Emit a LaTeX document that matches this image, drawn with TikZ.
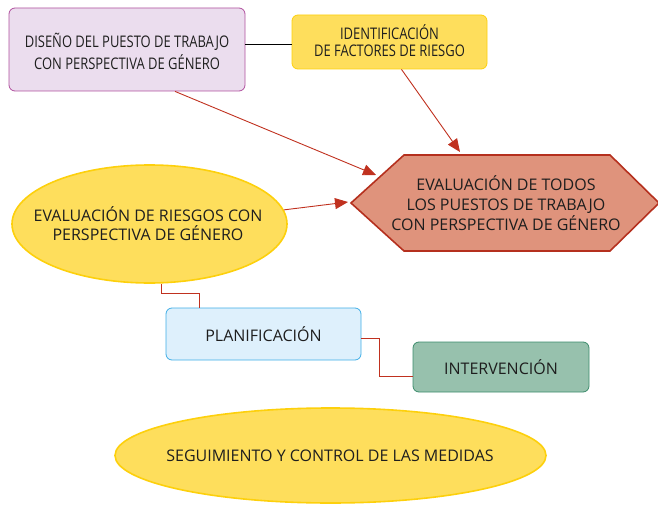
\documentclass[tikz,border=0pt]{standalone}
\usepackage{fontspec}
\setmainfont{Open Sans}
\newfontfamily\condfont[FakeStretch=0.81]{Open Sans}
\usetikzlibrary{arrows.meta,shapes.geometric}
\definecolor{txt}{HTML}{1E1E1E}
\definecolor{purF}{HTML}{EBDDEE}
\definecolor{purB}{HTML}{B0509E}
\definecolor{yelF}{HTML}{FEDE5C}
\definecolor{yelB}{HTML}{FDD00C}
\definecolor{hexF}{HTML}{DF937C}
\definecolor{hexB}{HTML}{B5301E}
\definecolor{bluF}{HTML}{DEF0FC}
\definecolor{bluB}{HTML}{3FAEE6}
\definecolor{grnF}{HTML}{97C1AD}
\definecolor{grnB}{HTML}{3C8C6C}
\definecolor{redL}{HTML}{C0311F}
\begin{document}
\begin{tikzpicture}[x=1pt,y=-1pt,
  lbl/.style={align=center,text=txt,font=\fontsize{16}{20}\selectfont,inner sep=0pt},
  box/.style={rounded corners=6pt,line width=0.8pt},
  oval/.style={ellipse,draw=yelB,fill=yelF,line width=1.6pt,inner sep=0pt},
  arr/.style={draw=redL,line width=0.9pt,-{Triangle[length=13pt,width=11pt]}},
  elb/.style={draw=redL,line width=0.9pt},
  plain/.style={draw=black,line width=0.9pt}]
\useasboundingbox (0,0) rectangle (658,505);
% hexagon
\fill[hexF,draw=hexB,line width=1.6pt,line join=miter]
  (351,203) -- (404,155) -- (610,155) -- (659,203) -- (610,251) -- (404,251) -- cycle;
\node[lbl] (hex) at (506,203) {EVALUACIÓN DE TODOS\\LOS PUESTOS DE TRABAJO\\CON PERSPECTIVA DE GÉNERO};
\coordinate (hexA) at (376,175);
\coordinate (hexB) at (460,152);
\coordinate (hexC) at (348,202);
% boxes
\node[box,draw=purB,fill=purF,minimum width=236pt,minimum height=83pt] (dis) at (127,49.5) {};
\node[lbl,font=\condfont\fontsize{16}{22}\selectfont] (distx) at (127,51) {DISEÑO DEL PUESTO DE TRABAJO\\CON PERSPECTIVA DE GÉNERO};
\node[box,draw=yelB,fill=yelF,minimum width=195pt,minimum height=54pt] (ide) at (389.5,42) {};
\node[lbl,font=\condfont\fontsize{16}{17}\selectfont] (idetx) at (389.5,41) {IDENTIFICACIÓN\\DE FACTORES DE RIESGO};
\node[oval,minimum width=275pt,minimum height=118pt] (eva) at (149.5,224) {};
\node[lbl,font=\fontsize{16}{19}\selectfont] (evatx) at (148,224) {EVALUACIÓN DE RIESGOS CON\\PERSPECTIVA DE GÉNERO};
\node[lbl,box,draw=bluB,fill=bluF,minimum width=195pt,minimum height=52pt] (pla) at (263.5,334) {PLANIFICACIÓN};
\node[lbl,box,draw=grnB,fill=grnF,minimum width=176pt,minimum height=50pt] (int) at (501,367) {INTERVENCIÓN};
\node[oval,minimum width=431pt,minimum height=95pt] (seg) at (330.5,455.5) {};
\node[lbl] (segtx) at (330,456) {SEGUIMIENTO Y CONTROL DE LAS MEDIDAS};
% connectors
\draw[plain] (dis.east |- 0,44) -- (ide.west |- 0,44);
\draw[arr] ([xshift=48pt]dis.south) -- (hexA);
\draw[arr] ([xshift=12pt]ide.south) -- (hexB);
\draw[arr] (eva.6) -- (hexC);
\draw[elb] ([xshift=12pt]eva.south) -- ++(0,10) -| ([xshift=-64pt]pla.north);
\draw[elb] ([yshift=-4pt]pla.east) -- ++(18,0) |- ([yshift=-9pt]int.west);
\end{tikzpicture}
\end{document}
